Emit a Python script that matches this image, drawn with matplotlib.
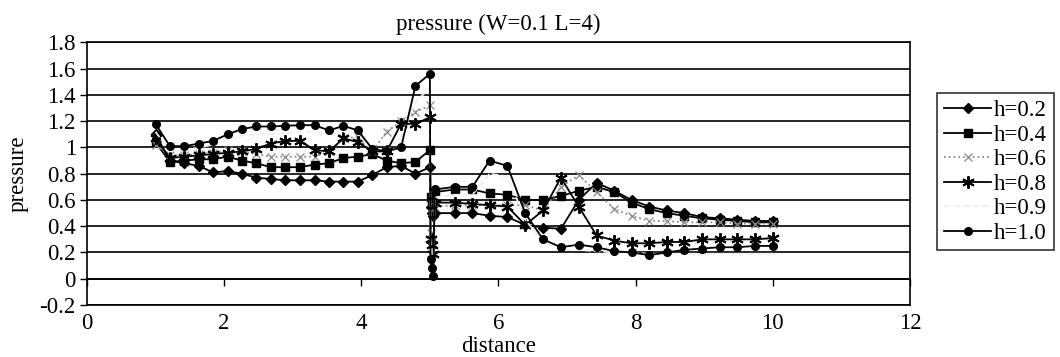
import numpy as np
import matplotlib.pyplot as plt
from matplotlib.ticker import MultipleLocator

plt.rcParams['font.family'] = ['Liberation Serif', 'DejaVu Serif']

# x positions of the nodes: left part, points at the jump, right part
x_left = [1.0, 1.21, 1.42, 1.63, 1.84, 2.05, 2.26, 2.47, 2.68, 2.89,
          3.11, 3.32, 3.53, 3.74, 3.95, 4.16, 4.37, 4.58, 4.79, 5.0]
x_jump = [5.01, 5.03, 5.05, 5.07]
x_right = [5.36, 5.62, 5.87, 6.13, 6.39, 6.65, 6.91, 7.17, 7.43, 7.69,
           7.94, 8.2, 8.45, 8.71, 8.97, 9.23, 9.48, 9.74, 10.0]

# h=0.2
p02_left = [1.10, 0.90, 0.88, 0.86, 0.81, 0.82, 0.80, 0.77, 0.76, 0.75,
            0.75, 0.75, 0.74, 0.74, 0.74, 0.79, 0.85, 0.86, 0.80, 0.85]
p02_jump = [0.55, 0.50, 0.48, 0.50]
p02_right = [0.50, 0.50, 0.48, 0.47, 0.41, 0.39, 0.38, 0.60, 0.73, 0.67,
             0.60, 0.55, 0.52, 0.50, 0.47, 0.46, 0.45, 0.44, 0.44]
# h=0.4
p04_left = [1.04, 0.89, 0.90, 0.91, 0.91, 0.93, 0.90, 0.88, 0.85, 0.85,
            0.85, 0.87, 0.88, 0.92, 0.93, 0.95, 0.90, 0.88, 0.89, 0.98]
p04_jump = [0.62, 0.60, 0.58, 0.66]
p04_right = [0.68, 0.68, 0.65, 0.64, 0.60, 0.60, 0.63, 0.67, 0.70, 0.66,
             0.58, 0.53, 0.50, 0.48, 0.46, 0.45, 0.44, 0.43, 0.43]
# h=0.6
p06_left = [1.02, 0.94, 0.94, 0.95, 0.96, 0.98, 0.97, 0.95, 0.93, 0.93,
            0.93, 0.93, 0.97, 1.07, 1.08, 0.97, 1.12, 1.20, 1.27, 1.32]
p06_jump = [0.35, 0.28, 0.22, 0.55]
p06_right = [0.56, 0.56, 0.56, 0.56, 0.56, 0.52, 0.70, 0.79, 0.66, 0.53,
             0.48, 0.44, 0.44, 0.43, 0.43, 0.43, 0.42, 0.42, 0.42]
# h=0.8
p08_left = [1.07, 0.92, 0.93, 0.94, 0.95, 0.96, 0.97, 0.99, 1.03, 1.05,
            1.05, 0.98, 0.97, 1.07, 1.04, 0.97, 0.97, 1.18, 1.18, 1.23]
p08_jump = [0.30, 0.26, 0.19, 0.58]
p08_right = [0.58, 0.57, 0.56, 0.55, 0.41, 0.52, 0.77, 0.55, 0.33, 0.29,
             0.27, 0.27, 0.28, 0.28, 0.30, 0.30, 0.30, 0.30, 0.31]
# h=0.9
p09_left = [1.12, 0.97, 0.98, 1.00, 1.02, 1.06, 1.09, 1.10, 1.10, 1.11,
            1.12, 1.12, 1.10, 1.12, 1.10, 0.98, 0.98, 1.08, 1.35, 1.45]
p09_jump = [0.30, 0.20, 0.10, 0.62]
p09_right = [0.64, 0.64, 0.80, 0.78, 0.45, 0.28, 0.22, 0.22, 0.21, 0.20,
             0.20, 0.19, 0.19, 0.19, 0.19, 0.19, 0.19, 0.19, 0.19]
# h=1.0
p10_left = [1.18, 1.01, 1.01, 1.03, 1.05, 1.10, 1.14, 1.16, 1.16, 1.165,
            1.17, 1.17, 1.13, 1.165, 1.13, 0.99, 0.97, 1.00, 1.47, 1.56]
p10_jump = [0.15, 0.08, 0.02, 0.68]
p10_right = [0.70, 0.70, 0.90, 0.86, 0.50, 0.30, 0.24, 0.26, 0.24, 0.21,
             0.20, 0.18, 0.20, 0.22, 0.23, 0.24, 0.24, 0.25, 0.25]

labels = ['h=0.2', 'h=0.4', 'h=0.6', 'h=0.8', 'h=0.9', 'h=1.0']

x_all = np.array(x_left + x_jump + x_right)
series = [p02_left + p02_jump + p02_right,
          p04_left + p04_jump + p04_right,
          p06_left + p06_jump + p06_right,
          p08_left + p08_jump + p08_right,
          p09_left + p09_jump + p09_right,
          p10_left + p10_jump + p10_right]
styles = [dict(color='black', ls='-', marker='D', ms=5.5),
          dict(color='black', ls='-', marker='s', ms=5.5),
          dict(color='#8c8c8c', ls=':', marker='x', ms=6, mew=0.9),
          dict(color='black', ls='-', marker=(6, 2, 0), ms=9, mew=1.4),
          dict(color='#eeeeee', ls='--', marker=None),
          dict(color='black', ls='-', marker='o', ms=5.5)]

fs = 16.5

fig = plt.figure(figsize=(10.6, 3.57), dpi=100)
ax = fig.add_axes([0.082, 0.1457, 0.7765, 0.7353])

for y, lab, st in zip(series, labels, styles):
    ax.plot(x_all, y, lw=1.3, label=lab, **st)

ax.set_xlim(0, 12)
ax.set_ylim(-0.2, 1.8)
ax.xaxis.set_major_locator(MultipleLocator(2))
ax.yaxis.set_major_locator(MultipleLocator(0.2))
ax.set_yticklabels([('%.1f' % v).rstrip('0').rstrip('.') if abs(v) > 1e-9 else '0'
                    for v in ax.get_yticks()])
ax.grid(True, axis='y', color='black', lw=1.2)
ax.tick_params(axis='x', length=0, labelsize=fs, pad=6)
ax.tick_params(axis='y', length=5, width=1, direction='out', labelsize=fs, pad=3)
for s in ax.spines.values():
    s.set_color('black')
    s.set_linewidth(1.2)

# category axis crossing at y = 0 with small tick marks
sec = ax.secondary_xaxis(0.1)
sec.xaxis.set_major_locator(MultipleLocator(2))
sec.tick_params(length=5, width=1, direction='out', labelbottom=False)
sec.spines['bottom'].set_linewidth(1.2)

ax.set_title('pressure (W=0.1 L=4)', fontsize=fs, pad=9)
ax.set_xlabel('distance', fontsize=fs, labelpad=1)
ax.set_ylabel('pressure', fontsize=fs, labelpad=8)

leg = ax.legend(loc='center left', bbox_to_anchor=(1.033, 0.507), fontsize=fs,
                frameon=True, fancybox=False, edgecolor='black',
                handlelength=2.05, handletextpad=0.13, borderpad=0.3,
                labelspacing=0.15, borderaxespad=0)
leg.get_frame().set_linewidth(1.2)

fig.savefig('out.png', dpi=100)
